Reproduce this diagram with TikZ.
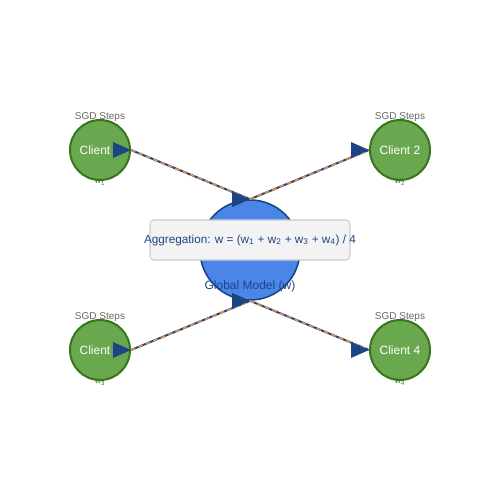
\documentclass[tikz,border=0pt]{standalone}
\usepackage{fontspec}
\setmainfont{Liberation Sans}
\usetikzlibrary{positioning}
\definecolor{clientfill}{HTML}{6AA84F}
\definecolor{clientline}{HTML}{38761D}
\definecolor{globalfill}{HTML}{4A86E8}
\definecolor{globalline}{HTML}{1C4587}
\definecolor{linkorange}{HTML}{E69138}
\definecolor{boxfill}{HTML}{F3F3F3}
\definecolor{boxline}{HTML}{CCCCCC}
\begin{document}
\begin{tikzpicture}[x=0.75pt, y=-0.75pt,
client/.style={circle, draw=clientline, fill=clientfill, line width=1.5pt, minimum size=45pt, inner sep=0pt, text=white, font=\fontsize{9}{10}\selectfont},
sgd/.style={text=black!60, font=\fontsize{7.5}{8}\selectfont, inner sep=0pt},
weight/.style={text=clientline, font=\fontsize{6.5}{7}\selectfont, inner sep=0pt},
link/.style={globalline, line width=1.5pt},
linkdash/.style={linkorange, line width=1.2pt, dash pattern=on 3.5pt off 2.5pt},
headmark/.pic={\fill[globalline] (0,0) -- (-18,-8) -- (-18,8) -- cycle;}]
\useasboundingbox (0,0) rectangle (500,500);
% global model and aggregation box
\node[circle, draw=globalline, fill=globalfill, line width=1.2pt, minimum size=75pt, inner sep=0pt] (global) at (250,250) {};
\node[text=globalline, font=\fontsize{9}{10}\selectfont] (globallabel) at (250,286) {Global Model (w)};
\draw[rounded corners=3pt, draw=boxline, fill=boxfill, line width=0.8pt] (150,220) rectangle (350,260);
\node[text=globalline, font=\fontsize{8.8}{10}\selectfont, inner sep=0pt] (agg) at (250,240) {Aggregation: w = (w\textsubscript{1} + w\textsubscript{2} + w\textsubscript{3} + w\textsubscript{4}) / 4};
% clients
\foreach \i/\x/\y in {1/100/150, 2/400/150, 3/100/350, 4/400/350} {
    \node[client] (client\i) at (\x,\y) {Client \i};
    \node[sgd] (sgd\i) at (\x,\y-33) {SGD Steps};
    \node[weight] (w\i) at (\x,\y+32) {w\textsubscript{\i}};
}
\coordinate (gtop) at (global.north);
\coordinate (gbot) at (global.south);
% links
\foreach \a/\b in {client1.east/gtop, gtop/client2.west, client3.east/gbot, gbot/client4.west} {
    \draw[link] (\a) -- (\b);
    \draw[linkdash] (\a) -- (\b);
}
% arrowheads
\foreach \c in {client1.east, gtop, client2.west, client3.east, gbot, client4.west}
    \pic at (\c) {headmark};
\end{tikzpicture}
\end{document}
